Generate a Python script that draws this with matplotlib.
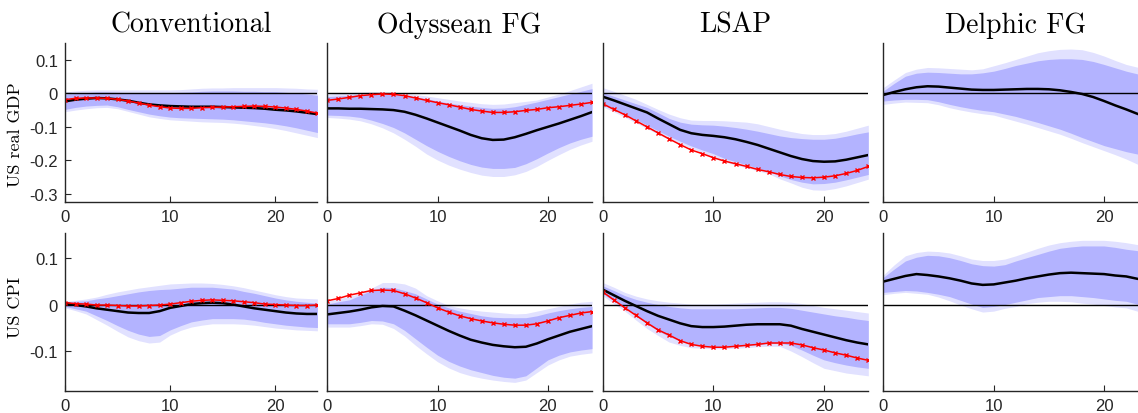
import numpy as np
import matplotlib
matplotlib.use("Agg")
import matplotlib.pyplot as plt

# impulse responses, horizon 0..24
horizon = np.arange(25)

shocks = ["Conventional", "Odyssean FG", "LSAP", "Delphic FG"]
variables = ["US real GDP", "US CPI"]

# ---- US real GDP ----
gdp_conv_red = [-0.019, -0.015, -0.014, -0.014, -0.015, -0.018, -0.023, -0.029, -0.035, -0.040, -0.044, -0.045, -0.045,
                -0.043, -0.042, -0.041, -0.040, -0.039, -0.038, -0.039, -0.041, -0.044, -0.048, -0.053, -0.059]
gdp_conv_med = [-0.024, -0.019, -0.016, -0.014, -0.015, -0.018, -0.022, -0.028, -0.033, -0.036, -0.038, -0.039, -0.040,
                -0.040, -0.040, -0.041, -0.042, -0.043, -0.044, -0.046, -0.049, -0.051, -0.054, -0.058, -0.062]
gdp_conv_hi68 = [-0.003, 0.000, 0.002, 0.004, 0.004, 0.003, 0.002, 0.002, 0.002, 0.002, 0.002, 0.003, 0.004,
                 0.006, 0.007, 0.007, 0.007, 0.006, 0.006, 0.005, 0.005, 0.003, 0.001, -0.002, -0.006]
gdp_conv_hi90 = [0.004, 0.007, 0.009, 0.010, 0.010, 0.010, 0.010, 0.010, 0.010, 0.010, 0.010, 0.011, 0.013,
                 0.015, 0.016, 0.016, 0.017, 0.017, 0.017, 0.017, 0.017, 0.016, 0.015, 0.013, 0.012]
gdp_conv_lo68 = [-0.048, -0.042, -0.038, -0.036, -0.035, -0.040, -0.048, -0.055, -0.062, -0.067, -0.071, -0.073, -0.074,
                 -0.075, -0.076, -0.077, -0.079, -0.082, -0.085, -0.088, -0.092, -0.097, -0.103, -0.110, -0.117]
gdp_conv_lo90 = [-0.055, -0.050, -0.046, -0.043, -0.042, -0.046, -0.054, -0.062, -0.070, -0.075, -0.079, -0.081, -0.083,
                 -0.085, -0.086, -0.087, -0.089, -0.092, -0.096, -0.100, -0.105, -0.111, -0.118, -0.125, -0.132]

gdp_ody_red = [-0.021, -0.017, -0.012, -0.007, -0.004, -0.002, -0.003, -0.007, -0.014, -0.021, -0.028, -0.034, -0.041,
               -0.048, -0.053, -0.057, -0.057, -0.055, -0.051, -0.048, -0.043, -0.040, -0.036, -0.032, -0.027]
gdp_ody_med = [-0.045, -0.045, -0.046, -0.046, -0.047, -0.048, -0.050, -0.055, -0.064, -0.075, -0.087, -0.099, -0.111,
               -0.124, -0.134, -0.139, -0.138, -0.131, -0.121, -0.110, -0.100, -0.090, -0.079, -0.068, -0.056]
gdp_ody_hi68 = [-0.010, -0.008, -0.006, -0.004, -0.003, -0.003, -0.004, -0.007, -0.011, -0.016, -0.023, -0.029, -0.034,
                -0.038, -0.042, -0.045, -0.044, -0.040, -0.033, -0.026, -0.018, -0.010, -0.002, 0.006, 0.014]
gdp_ody_hi90 = [-0.003, 0.000, 0.002, 0.003, 0.004, 0.004, 0.003, 0.000, -0.004, -0.008, -0.013, -0.018, -0.023,
                -0.027, -0.031, -0.033, -0.032, -0.028, -0.024, -0.020, -0.011, -0.002, 0.008, 0.019, 0.030]
gdp_ody_lo68 = [-0.065, -0.066, -0.068, -0.072, -0.080, -0.090, -0.102, -0.118, -0.137, -0.156, -0.173, -0.188, -0.201,
                -0.212, -0.220, -0.224, -0.224, -0.221, -0.210, -0.195, -0.178, -0.162, -0.148, -0.137, -0.128]
gdp_ody_lo90 = [-0.072, -0.074, -0.077, -0.082, -0.091, -0.103, -0.118, -0.137, -0.158, -0.181, -0.199, -0.214, -0.226,
                -0.236, -0.244, -0.248, -0.248, -0.243, -0.233, -0.218, -0.200, -0.183, -0.167, -0.154, -0.143]

gdp_lsap_red = [-0.031, -0.048, -0.064, -0.082, -0.100, -0.118, -0.136, -0.153, -0.169, -0.180, -0.192, -0.202, -0.210,
                -0.218, -0.227, -0.234, -0.242, -0.248, -0.251, -0.252, -0.250, -0.246, -0.239, -0.230, -0.218]
gdp_lsap_med = [-0.010, -0.021, -0.033, -0.045, -0.057, -0.075, -0.092, -0.109, -0.119, -0.124, -0.127, -0.131, -0.137,
                -0.145, -0.154, -0.165, -0.176, -0.187, -0.196, -0.202, -0.204, -0.203, -0.198, -0.191, -0.184]
gdp_lsap_hi68 = [0.002, -0.009, -0.020, -0.031, -0.042, -0.058, -0.075, -0.086, -0.092, -0.094, -0.095, -0.098, -0.102,
                 -0.107, -0.113, -0.120, -0.127, -0.132, -0.135, -0.137, -0.137, -0.134, -0.128, -0.121, -0.115]
gdp_lsap_hi90 = [0.017, 0.006, -0.006, -0.018, -0.033, -0.048, -0.062, -0.073, -0.080, -0.081, -0.081, -0.082, -0.084,
                 -0.086, -0.091, -0.099, -0.107, -0.114, -0.120, -0.123, -0.123, -0.120, -0.113, -0.104, -0.095]
gdp_lsap_lo68 = [-0.035, -0.048, -0.062, -0.078, -0.095, -0.112, -0.128, -0.143, -0.157, -0.169, -0.180, -0.194, -0.204,
                 -0.213, -0.223, -0.233, -0.246, -0.257, -0.265, -0.270, -0.269, -0.265, -0.258, -0.250, -0.242]
gdp_lsap_lo90 = [-0.040, -0.055, -0.071, -0.088, -0.105, -0.122, -0.138, -0.150, -0.164, -0.177, -0.190, -0.204, -0.214,
                 -0.222, -0.231, -0.240, -0.255, -0.267, -0.280, -0.288, -0.289, -0.284, -0.276, -0.266, -0.256]

gdp_delph_med = [-0.005, 0.004, 0.012, 0.018, 0.021, 0.020, 0.017, 0.014, 0.011, 0.010, 0.010, 0.011, 0.012,
                 0.013, 0.013, 0.012, 0.009, 0.004, -0.002, -0.011, -0.023, -0.036, -0.048, -0.061, -0.073]
gdp_delph_hi68 = [0.007, 0.030, 0.051, 0.060, 0.063, 0.062, 0.060, 0.058, 0.058, 0.061, 0.066, 0.074, 0.083,
                  0.090, 0.097, 0.101, 0.103, 0.103, 0.101, 0.095, 0.086, 0.076, 0.066, 0.058, 0.051]
gdp_delph_hi90 = [0.017, 0.040, 0.062, 0.072, 0.077, 0.076, 0.074, 0.072, 0.070, 0.073, 0.082, 0.091, 0.101,
                  0.111, 0.121, 0.127, 0.131, 0.132, 0.130, 0.122, 0.111, 0.098, 0.086, 0.078, 0.071]
gdp_delph_lo68 = [-0.023, -0.020, -0.018, -0.018, -0.019, -0.025, -0.033, -0.040, -0.046, -0.051, -0.055, -0.062, -0.069,
                  -0.078, -0.087, -0.097, -0.107, -0.119, -0.132, -0.144, -0.156, -0.165, -0.174, -0.181, -0.188]
gdp_delph_lo90 = [-0.033, -0.029, -0.026, -0.027, -0.028, -0.034, -0.043, -0.050, -0.056, -0.061, -0.065, -0.074, -0.083,
                  -0.092, -0.102, -0.112, -0.122, -0.134, -0.147, -0.159, -0.171, -0.183, -0.196, -0.211, -0.225]

# ---- US CPI ----
cpi_conv_red = [0.004, 0.002, 0.001, -0.001, -0.001, -0.002, -0.003, -0.003, -0.002, -0.001, 0.001, 0.004, 0.007,
                0.009, 0.010, 0.009, 0.008, 0.006, 0.004, 0.001, 0.000, -0.001, -0.002, -0.002, -0.001]
cpi_conv_med = [0.003, -0.001, -0.004, -0.008, -0.011, -0.014, -0.017, -0.018, -0.018, -0.014, -0.007, -0.003, 0.001,
                0.003, 0.004, 0.003, 0.000, -0.004, -0.008, -0.011, -0.014, -0.017, -0.019, -0.020, -0.020]
cpi_conv_hi68 = [0.005, 0.007, 0.008, 0.012, 0.015, 0.019, 0.023, 0.027, 0.030, 0.032, 0.033, 0.035, 0.037,
                 0.037, 0.037, 0.035, 0.033, 0.028, 0.024, 0.019, 0.014, 0.010, 0.007, 0.005, 0.003]
cpi_conv_hi90 = [0.007, 0.009, 0.012, 0.016, 0.022, 0.027, 0.031, 0.035, 0.038, 0.041, 0.044, 0.045, 0.046,
                 0.046, 0.045, 0.043, 0.040, 0.036, 0.031, 0.026, 0.021, 0.017, 0.014, 0.013, 0.012]
cpi_conv_lo68 = [-0.004, -0.009, -0.014, -0.024, -0.034, -0.045, -0.055, -0.063, -0.068, -0.066, -0.054, -0.045, -0.037,
                 -0.033, -0.030, -0.030, -0.030, -0.031, -0.034, -0.038, -0.041, -0.044, -0.046, -0.048, -0.049]
cpi_conv_lo90 = [-0.007, -0.013, -0.020, -0.032, -0.044, -0.057, -0.069, -0.077, -0.082, -0.080, -0.065, -0.055, -0.048,
                 -0.044, -0.041, -0.041, -0.041, -0.042, -0.044, -0.047, -0.050, -0.052, -0.054, -0.055, -0.056]

cpi_ody_red = [0.008, 0.013, 0.020, 0.025, 0.030, 0.031, 0.030, 0.023, 0.014, 0.004, -0.007, -0.016, -0.024,
               -0.030, -0.035, -0.039, -0.042, -0.044, -0.044, -0.041, -0.035, -0.028, -0.023, -0.018, -0.015]
cpi_ody_med = [-0.021, -0.018, -0.015, -0.011, -0.006, -0.003, -0.004, -0.013, -0.023, -0.034, -0.045, -0.056, -0.066,
               -0.075, -0.081, -0.086, -0.089, -0.091, -0.090, -0.083, -0.074, -0.066, -0.058, -0.052, -0.046]
cpi_ody_hi68 = [0.001, 0.006, 0.010, 0.020, 0.030, 0.037, 0.036, 0.030, 0.023, 0.012, 0.001, -0.007, -0.014,
                -0.019, -0.024, -0.027, -0.028, -0.028, -0.028, -0.024, -0.018, -0.013, -0.009, -0.006, -0.004]
cpi_ody_hi90 = [0.007, 0.012, 0.018, 0.023, 0.035, 0.047, 0.047, 0.044, 0.035, 0.019, 0.008, -0.002, -0.007,
                -0.011, -0.014, -0.016, -0.018, -0.020, -0.019, -0.014, -0.009, -0.004, 0.001, 0.005, 0.007]
cpi_ody_lo68 = [-0.041, -0.041, -0.041, -0.038, -0.034, -0.035, -0.041, -0.055, -0.073, -0.091, -0.108, -0.121, -0.131,
                -0.139, -0.145, -0.151, -0.155, -0.157, -0.152, -0.135, -0.118, -0.108, -0.101, -0.097, -0.094]
cpi_ody_lo90 = [-0.048, -0.048, -0.048, -0.045, -0.041, -0.042, -0.051, -0.067, -0.087, -0.105, -0.122, -0.135, -0.145,
                -0.152, -0.157, -0.161, -0.164, -0.166, -0.161, -0.145, -0.129, -0.118, -0.110, -0.106, -0.103]

cpi_lsap_red = [0.027, 0.010, -0.007, -0.023, -0.039, -0.054, -0.065, -0.077, -0.085, -0.089, -0.091, -0.091, -0.089,
                -0.087, -0.085, -0.082, -0.082, -0.082, -0.086, -0.092, -0.097, -0.103, -0.108, -0.114, -0.119]
cpi_lsap_med = [0.032, 0.020, 0.008, -0.003, -0.014, -0.024, -0.032, -0.040, -0.046, -0.048, -0.048, -0.047, -0.045,
                -0.043, -0.042, -0.042, -0.042, -0.045, -0.052, -0.058, -0.064, -0.070, -0.076, -0.081, -0.085]
cpi_lsap_hi68 = [0.040, 0.030, 0.019, 0.011, 0.005, 0.000, -0.004, -0.007, -0.009, -0.009, -0.009, -0.009, -0.009,
                 -0.008, -0.007, -0.006, -0.006, -0.008, -0.012, -0.016, -0.020, -0.024, -0.027, -0.031, -0.034]
cpi_lsap_hi90 = [0.047, 0.037, 0.026, 0.018, 0.012, 0.008, 0.005, 0.003, 0.001, 0.001, 0.001, 0.002, 0.003,
                 0.004, 0.005, 0.006, 0.006, 0.005, 0.002, -0.002, -0.006, -0.009, -0.012, -0.015, -0.018]
cpi_lsap_lo68 = [0.023, 0.008, -0.007, -0.024, -0.041, -0.056, -0.068, -0.078, -0.085, -0.088, -0.089, -0.089, -0.089,
                 -0.087, -0.085, -0.083, -0.082, -0.087, -0.097, -0.108, -0.118, -0.124, -0.129, -0.133, -0.136]
cpi_lsap_lo90 = [0.019, 0.002, -0.014, -0.033, -0.051, -0.066, -0.080, -0.087, -0.092, -0.093, -0.094, -0.094, -0.093,
                 -0.092, -0.090, -0.089, -0.089, -0.099, -0.111, -0.124, -0.136, -0.141, -0.146, -0.149, -0.152]

cpi_delph_med = [0.049, 0.055, 0.061, 0.065, 0.063, 0.060, 0.056, 0.051, 0.045, 0.042, 0.043, 0.047, 0.051,
                 0.056, 0.060, 0.064, 0.067, 0.068, 0.067, 0.066, 0.065, 0.062, 0.060, 0.055, 0.051]
cpi_delph_hi68 = [0.058, 0.076, 0.093, 0.101, 0.105, 0.104, 0.100, 0.094, 0.087, 0.083, 0.082, 0.085, 0.093,
                  0.100, 0.107, 0.114, 0.120, 0.123, 0.125, 0.125, 0.125, 0.122, 0.118, 0.115, 0.111]
cpi_delph_hi90 = [0.063, 0.085, 0.104, 0.111, 0.114, 0.113, 0.110, 0.104, 0.097, 0.094, 0.094, 0.097, 0.104,
                  0.112, 0.120, 0.127, 0.132, 0.135, 0.137, 0.137, 0.137, 0.135, 0.132, 0.128, 0.125]
cpi_delph_lo68 = [0.026, 0.028, 0.030, 0.029, 0.026, 0.022, 0.017, 0.009, 0.001, -0.006, -0.004, 0.000, 0.005,
                  0.010, 0.015, 0.017, 0.019, 0.019, 0.017, 0.015, 0.012, 0.009, 0.007, 0.001, -0.002]
cpi_delph_lo90 = [0.021, 0.024, 0.026, 0.024, 0.022, 0.016, 0.008, -0.001, -0.009, -0.016, -0.014, -0.008, -0.004,
                  0.002, 0.005, 0.007, 0.007, 0.006, 0.003, 0.001, -0.002, -0.005, -0.007, -0.014, -0.018]

# rows = variables, columns = shocks; (median, lo68, hi68, lo90, hi90, red or None)
panels = [
    [(gdp_conv_med, gdp_conv_lo68, gdp_conv_hi68, gdp_conv_lo90, gdp_conv_hi90, gdp_conv_red),
     (gdp_ody_med, gdp_ody_lo68, gdp_ody_hi68, gdp_ody_lo90, gdp_ody_hi90, gdp_ody_red),
     (gdp_lsap_med, gdp_lsap_lo68, gdp_lsap_hi68, gdp_lsap_lo90, gdp_lsap_hi90, gdp_lsap_red),
     (gdp_delph_med, gdp_delph_lo68, gdp_delph_hi68, gdp_delph_lo90, gdp_delph_hi90, None)],
    [(cpi_conv_med, cpi_conv_lo68, cpi_conv_hi68, cpi_conv_lo90, cpi_conv_hi90, cpi_conv_red),
     (cpi_ody_med, cpi_ody_lo68, cpi_ody_hi68, cpi_ody_lo90, cpi_ody_hi90, cpi_ody_red),
     (cpi_lsap_med, cpi_lsap_lo68, cpi_lsap_hi68, cpi_lsap_lo90, cpi_lsap_hi90, cpi_lsap_red),
     (cpi_delph_med, cpi_delph_lo68, cpi_delph_hi68, cpi_delph_lo90, cpi_delph_hi90, None)],
]

ylims = [(-0.325, 0.15), (-0.185, 0.152)]
yticks = [[-0.3, -0.2, -0.1, 0, 0.1], [-0.1, 0, 0.1]]
ytick_labels = [["-0.3", "-0.2", "-0.1", "0", "0.1"], ["-0.1", "0", "0.1"]]
xticks = [0, 10, 20]
ylabel_y = [0.43, 0.537]

plt.rcParams["axes.unicode_minus"] = False

W, H = 1138, 414
fig = plt.figure(figsize=(W / 100, H / 100), dpi=100)

# pixel boxes of the panels (left, width) and (top, bottom)
cols_px = [(65, 252.4), (327.3, 264.7), (602.7, 265.6), (883.3, 265.0)]
rows_px = [(44, 203.3), (234.3, 392.3)]

c_dark = "#262626"
c_in = "#b3b3ff"
c_out = "#e1e1ff"
tick_font = dict(fontfamily="Liberation Sans", fontsize=12)

for r, (top, bot) in enumerate(rows_px):
    for c, (left, width) in enumerate(cols_px):
        ax = fig.add_axes([left / W, (H - bot) / H, width / W, (bot - top) / H])
        med, lo68, hi68, lo90, hi90, red = panels[r][c]
        ax.fill_between(horizon, lo90, hi90, color=c_out, lw=0)
        ax.fill_between(horizon, lo68, hi68, color=c_in, lw=0)
        ax.axhline(0, color="black", lw=1.0)
        ax.plot(horizon, med, color="black", lw=1.8)
        if red is not None:
            ax.plot(horizon, red, color="red", lw=1.1, marker="x", ms=3.3, mew=1.0)

        ax.set_xlim(0, 24)
        ax.set_ylim(*ylims[r])
        ax.set_xticks(xticks)
        ax.set_xticklabels([str(t) for t in xticks], **tick_font)
        for side in ["top", "right"]:
            ax.spines[side].set_visible(False)
        for side in ["left", "bottom"]:
            ax.spines[side].set_color(c_dark)
            ax.spines[side].set_linewidth(1.0)
        ax.tick_params(direction="in", length=4, color=c_dark, labelcolor=c_dark, pad=5)

        if c == 0:
            ax.set_yticks(yticks[r])
            ax.set_yticklabels(ytick_labels[r], **tick_font)
            ax.set_ylabel(variables[r], fontfamily="cmr10", fontsize=13)
            ax.yaxis.set_label_coords(-0.167, ylabel_y[r])
        else:
            ax.tick_params(left=False, labelleft=False)

        if r == 0:
            ax.set_title(shocks[c], fontfamily="cmr10", fontsize=20, pad=8)

fig.savefig("out.png", dpi=100)
